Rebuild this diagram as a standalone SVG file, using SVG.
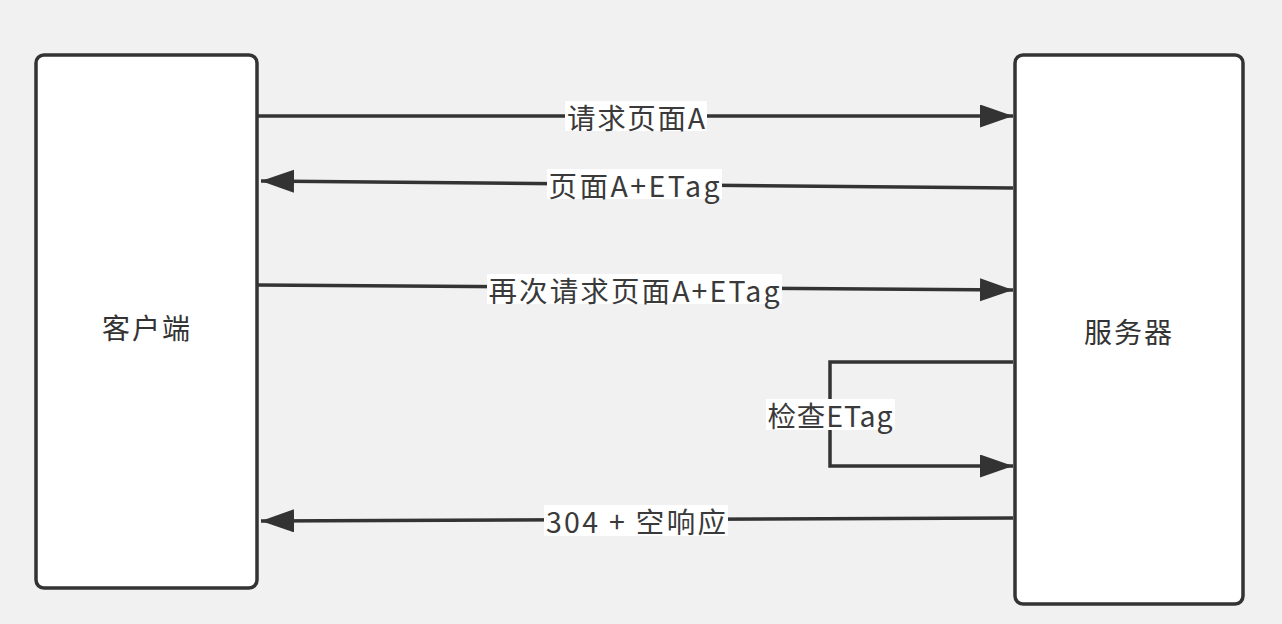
<svg xmlns="http://www.w3.org/2000/svg" width="1282" height="624" viewBox="0 0 1282 624">
<defs>
<style>
.box{fill:#ffffff;stroke:#333333;stroke-width:3.5}
.ln{fill:none;stroke:#333333;stroke-width:3.5}
.lbl{font-family:"Noto Sans CJK SC","Liberation Sans",sans-serif;font-size:28.5px;fill:#3a3a3a;text-anchor:middle;dominant-baseline:central}
.nlbl{font-family:"Noto Sans CJK SC","Liberation Sans",sans-serif;font-size:28px;fill:#333333;text-anchor:middle;dominant-baseline:central}
.bg{fill:#ffffff}
</style>
<marker id="arr" markerUnits="userSpaceOnUse" markerWidth="34" markerHeight="24" refX="33" refY="11.5" orient="auto" viewBox="0 0 34 24">
<path d="M0,0 L33,11.5 L0,23 z" fill="#333333"/>
</marker>
</defs>
<rect width="1282" height="624" fill="#f1f1f1"/>
<g id="client">
<rect class="box" x="36" y="55" width="221" height="533" rx="8"/>
<text class="nlbl" x="146" y="327" textLength="88" lengthAdjust="spacing">客户端</text>
</g>
<g id="server">
<rect class="box" x="1015" y="55" width="228" height="549" rx="8"/>
<text class="nlbl" x="1128" y="331" textLength="88" lengthAdjust="spacing">服务器</text>
</g>
<g id="connectors">
<line class="ln" x1="258" y1="116" x2="1013" y2="116" marker-end="url(#arr)"/>
<line class="ln" x1="1013" y1="188" x2="261" y2="181" marker-end="url(#arr)"/>
<line class="ln" x1="258" y1="285" x2="1013" y2="290" marker-end="url(#arr)"/>
<polyline class="ln" points="1013,362 830,362 830,466 1013,466" marker-end="url(#arr)"/>
<line class="ln" x1="1013" y1="518" x2="261" y2="521" marker-end="url(#arr)"/>
<g id="labels">
<rect class="bg" x="565" y="101" width="142" height="30"/>
<text class="lbl" x="636" y="116" textLength="138" lengthAdjust="spacing">请求页面A</text>
<rect class="bg" x="547" y="169" width="175" height="30"/>
<text class="lbl" x="634" y="184" textLength="171" lengthAdjust="spacing">页面A+ETag</text>
<rect class="bg" x="487" y="274" width="295" height="30"/>
<text class="lbl" x="634" y="289" textLength="291" lengthAdjust="spacing">再次请求页面A+ETag</text>
<rect class="bg" x="766" y="399" width="129" height="31"/>
<text class="lbl" x="830" y="414" textLength="125" lengthAdjust="spacing">检查ETag</text>
<rect class="bg" x="544" y="505" width="184" height="31"/>
<text class="lbl" x="636" y="520" textLength="180" lengthAdjust="spacing">304 + 空响应</text>
</g>
</g>
</svg>
